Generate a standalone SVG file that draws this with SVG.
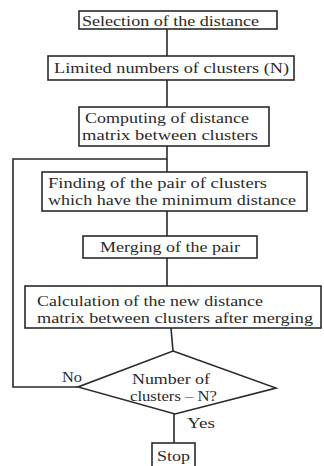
<svg xmlns="http://www.w3.org/2000/svg" width="324" height="466" viewBox="0 0 324 466">
<style>
.box{fill:#fff;stroke:#2a2a2a;stroke-width:1.6}
.ln{fill:none;stroke:#2a2a2a;stroke-width:1.6}
text{font-family:"Liberation Serif","Times New Roman",serif;font-size:15px;fill:#2a2a2a}
</style>
<rect width="324" height="466" fill="#fff"/>
<g id="connectors">
<path class="ln" d="M167,29V56M167,80V107M167,146V172M167,159H13V387H78M167,211V236M167,258V286M171,328L173,351M174,414V443"/>
</g>
<g id="n1"><rect class="box" x="79" y="11" width="198" height="18"/><text x="82" y="26" textLength="177" lengthAdjust="spacingAndGlyphs">Selection of the distance</text></g>
<g id="n2"><rect class="box" x="48" y="56" width="246" height="24"/><text x="54" y="73" textLength="235" lengthAdjust="spacingAndGlyphs">Limited numbers of clusters (N)</text></g>
<g id="n3"><rect class="box" x="79" y="107" width="190" height="39"/><text x="85" y="123" textLength="164" lengthAdjust="spacingAndGlyphs">Computing of distance</text><text x="82" y="140" textLength="176" lengthAdjust="spacingAndGlyphs">matrix between clusters</text></g>
<g id="n4"><rect class="box" x="42" y="172" width="265" height="39"/><text x="48" y="188" textLength="219" lengthAdjust="spacingAndGlyphs">Finding of the pair of clusters</text><text x="48" y="205" textLength="248" lengthAdjust="spacingAndGlyphs">which have the minimum distance</text></g>
<g id="n5"><rect class="box" x="83" y="236" width="174" height="22"/><text x="100" y="252" textLength="140" lengthAdjust="spacingAndGlyphs">Merging of the pair</text></g>
<g id="n6"><rect class="box" x="25" y="286" width="296" height="42"/><text x="37" y="306" textLength="226" lengthAdjust="spacingAndGlyphs">Calculation of the new distance</text><text x="37" y="323" textLength="276" lengthAdjust="spacingAndGlyphs">matrix between clusters after merging</text></g>
<g id="n7"><polygon class="box" points="173,351 276,388 175,414 78,387"/><text x="132" y="384" textLength="78" lengthAdjust="spacingAndGlyphs">Number of</text><text x="130" y="401" textLength="87" lengthAdjust="spacingAndGlyphs">clusters – N?</text></g>
<g id="labels"><text x="62" y="382" textLength="20" lengthAdjust="spacingAndGlyphs">No</text><text x="187" y="428" textLength="28" lengthAdjust="spacingAndGlyphs">Yes</text></g>
<g id="n8"><rect class="box" x="152" y="443" width="43" height="24"/><text x="157" y="461" textLength="33" lengthAdjust="spacingAndGlyphs">Stop</text></g>
</svg>
